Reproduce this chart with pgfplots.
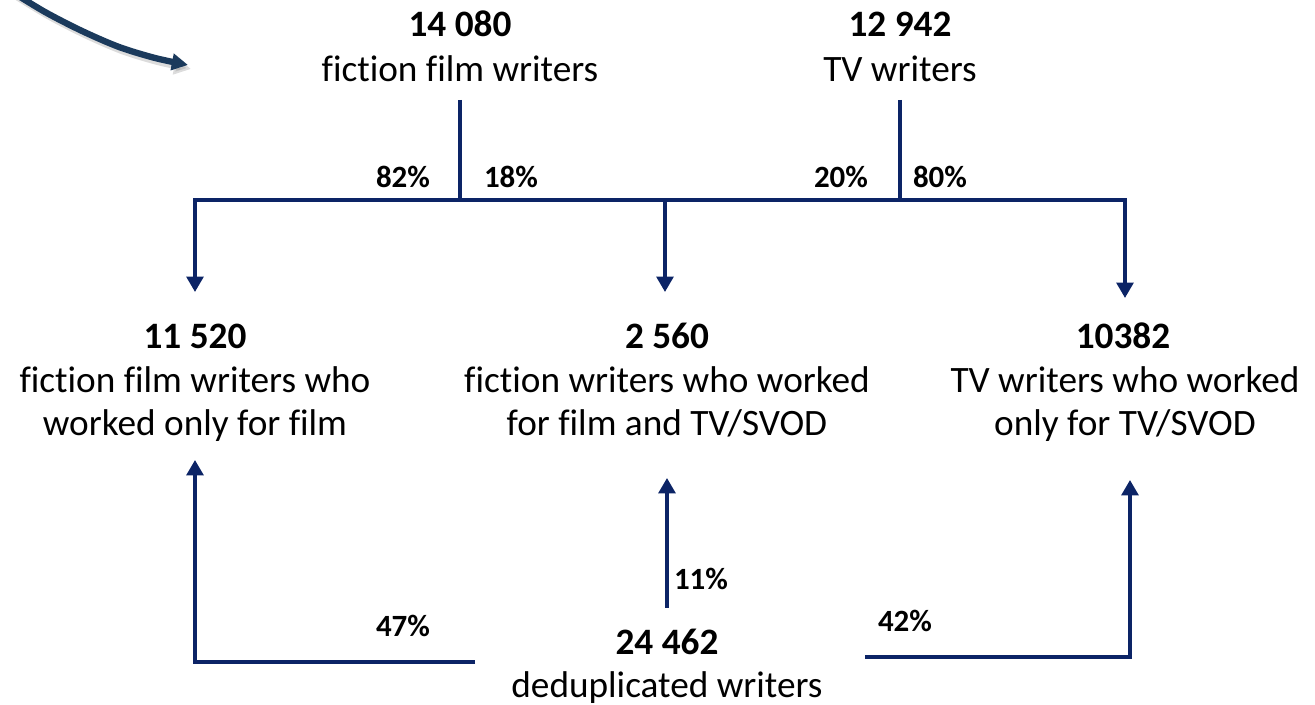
\documentclass[border=0pt]{standalone}
\usepackage{fontspec}
\setmainfont[Ligatures=NoCommon]{Carlito}
\usepackage{pgfplots}
\pgfplotsset{compat=1.18}
\usetikzlibrary{arrows.meta}
\definecolor{navy}{HTML}{0C2466}
\definecolor{slate}{HTML}{1B3A5C}
\begin{document}
\begin{tikzpicture}
\begin{axis}[scale only axis, width=13.15cm, height=7.05cm,
  xmin=0, xmax=1315, ymin=0, ymax=705, y dir=reverse, hide axis, clip=true]
\path (axis cs:0,0) rectangle (axis cs:1315,705);
% curved arrow with shadow
\addplot[black!45, opacity=0.3, line width=1.8pt, smooth, no marks, -{Triangle[width=4.8pt,length=4.8pt]}]
  coordinates {(12,-6)(48,16)(85,35)(122,51)(158,62)(191,69)};
\addplot[slate, line width=1.8pt, smooth, no marks, -{Triangle[width=4.6pt,length=4.6pt]}]
  coordinates {(9,-10)(45,12)(82,31)(119,47)(155,58)(188,65)};
% top tree
\addplot[navy, line width=1pt, no marks] coordinates {(460,100)(460,200)};
\addplot[navy, line width=1pt, no marks] coordinates {(900,100)(900,200)};
\addplot[navy, line width=1pt, no marks] coordinates {(460,200)(900,200)};
\addplot[navy, line width=1pt, no marks, -{Triangle[width=4.8pt,length=4.4pt]}] coordinates {(460,200)(195,200)(195,292)};
\addplot[navy, line width=1pt, no marks, -{Triangle[width=4.8pt,length=4.4pt]}] coordinates {(900,200)(1125,200)(1125,298)};
\addplot[navy, line width=1pt, no marks, -{Triangle[width=4.8pt,length=4.4pt]}] coordinates {(665,200)(665,292)};
% bottom tree
\addplot[navy, line width=1pt, no marks, -{Triangle[width=4.8pt,length=4.4pt]}] coordinates {(475,662)(195,662)(195,460)};
\addplot[navy, line width=1pt, no marks, -{Triangle[width=4.8pt,length=4.4pt]}] coordinates {(667,608)(667,478)};
\addplot[navy, line width=1pt, no marks, -{Triangle[width=4.8pt,length=4.4pt]}] coordinates {(865,657)(1130,657)(1130,480)};
% texts
\tikzset{big/.style={anchor=base, font=\fontsize{10.6}{12}\selectfont\bfseries},
         txt/.style={anchor=base, font=\fontsize{10.6}{12}\selectfont},
         pct/.style={anchor=base, font=\fontsize{8.8}{10}\selectfont\bfseries}}
\node[big] at (axis cs:460,37) {14 080};
\node[txt] at (axis cs:460,82) {fiction film writers};
\node[big] at (axis cs:900,37) {12 942};
\node[txt] at (axis cs:900,82) {TV writers};
\node[pct] at (axis cs:403,188) {82\%};
\node[pct] at (axis cs:511,188) {18\%};
\node[pct] at (axis cs:841,188) {20\%};
\node[pct] at (axis cs:940,188) {80\%};
\node[big] at (axis cs:195,349) {11 520};
\node[txt] at (axis cs:195,393) {fiction film writers who};
\node[txt] at (axis cs:195,436) {worked only for film};
\node[big] at (axis cs:667,349) {2 560};
\node[txt] at (axis cs:667,393) {fiction writers who worked};
\node[txt] at (axis cs:667,436) {for film and TV/SVOD};
\node[big] at (axis cs:1123,349) {10382};
\node[txt] at (axis cs:1125,393) {TV writers who worked};
\node[txt] at (axis cs:1125,436) {only for TV/SVOD};
\node[pct] at (axis cs:403,637) {47\%};
\node[pct] at (axis cs:701,590) {11\%};
\node[pct] at (axis cs:905,632) {42\%};
\node[big] at (axis cs:667,655) {24 462};
\node[txt] at (axis cs:667,698) {deduplicated writers};
\end{axis}
\end{tikzpicture}
\end{document}
